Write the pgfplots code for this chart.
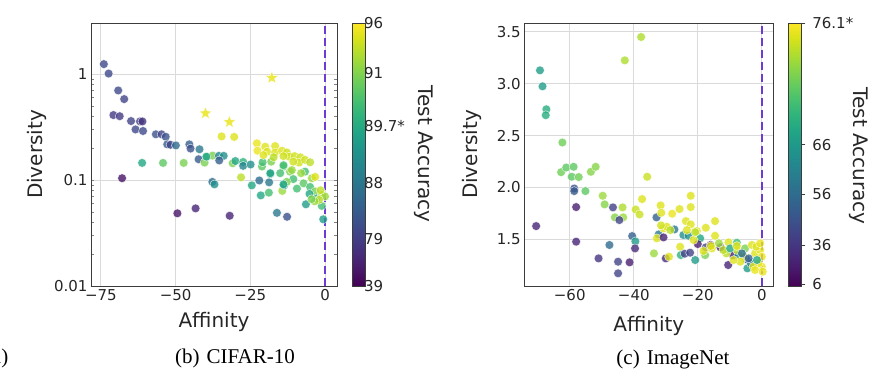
\documentclass[border=0pt]{standalone}
\usepackage{fontspec}
\setmainfont{DejaVu Sans}
\newfontfamily\capfont{Liberation Serif}
\usepackage{pgfplots}
\pgfplotsset{compat=1.18}
\definecolor{vline}{RGB}{108,58,212}
\definecolor{gridc}{RGB}{218,218,218}
\definecolor{framec}{RGB}{60,60,60}

\pgfdeclareplotmark{fstar}{%
  \pgfpathmoveto{\pgfpointpolar{90}{\pgfplotmarksize}}%
  \pgfpathlineto{\pgfpointpolar{126}{0.42\pgfplotmarksize}}%
  \pgfpathlineto{\pgfpointpolar{162}{\pgfplotmarksize}}%
  \pgfpathlineto{\pgfpointpolar{198}{0.42\pgfplotmarksize}}%
  \pgfpathlineto{\pgfpointpolar{234}{\pgfplotmarksize}}%
  \pgfpathlineto{\pgfpointpolar{270}{0.42\pgfplotmarksize}}%
  \pgfpathlineto{\pgfpointpolar{306}{\pgfplotmarksize}}%
  \pgfpathlineto{\pgfpointpolar{342}{0.42\pgfplotmarksize}}%
  \pgfpathlineto{\pgfpointpolar{18}{\pgfplotmarksize}}%
  \pgfpathlineto{\pgfpointpolar{54}{0.42\pgfplotmarksize}}%
  \pgfpathclose
  \pgfusepathqfillstroke}

\pgfplotstableread{
x y c
-74.0 1.24 0.22
-72.4 1.01 0.22
-69.2 0.70 0.22
-67.2 0.58 0.2
-70.8 0.41 0.17
-68.7 0.40 0.17
-64.9 0.36 0.2
-61.9 0.357 0.2
-61.1 0.357 0.15
-63.4 0.30 0.22
-60.9 0.29 0.22
-56.6 0.27 0.25
-54.7 0.27 0.2
-53.3 0.256 0.25
-52.8 0.217 0.3
-51.7 0.215 0.2
-49.9 0.212 0.35
-45.4 0.217 0.3
-45.0 0.198 0.25
-42.0 0.195 0.4
-42.3 0.157 0.28
-37.7 0.096 0.35
-37.0 0.091 0.5
-61.2 0.145 0.6
-54.2 0.145 0.75
-47.3 0.145 0.8
-40.3 0.146 0.8
-39.5 0.166 0.7
-67.9 0.104 0.05
-49.4 0.0485 0.05
-43.3 0.054 0.1
-37.6 0.17 0.8
-31.9 0.046 0.1
-34.6 0.258 0.95
-30.4 0.255 0.95
-39.7 0.166 0.6
-35.5 0.169 0.45
-33.9 0.169 0.5
-35.4 0.153 0.3
-30.9 0.144 0.8
-30.0 0.151 0.6
-27.4 0.148 0.65
-27.4 0.136 0.45
-24.9 0.14 0.5
-28.1 0.106 0.9
-24.5 0.089 0.6
-21.5 0.0716 0.6
-18.8 0.076 0.7
-22.0 0.099 0.35
-18.7 0.095 0.4
-16.1 0.049 0.4
-12.7 0.045 0.25
-14.3 0.079 0.85
-13.7 0.089 0.5
-13.9 0.134 0.75
-18.3 0.114 0.55
-21.1 0.134 0.75
-18.3 0.116 0.6
-15.0 0.116 0.7
-13.9 0.138 0.7
-11.7 0.12 0.8
-10.6 0.102 0.7
-6.7 0.12 0.7
-7.2 0.093 0.75
-5.0 0.086 0.7
-3.3 0.078 0.8
-5.2 0.074 0.6
-2.8 0.067 0.6
-1.1 0.072 0.9
0.0 0.07 0.85
-1.1 0.057 0.7
-6.4 0.059 0.55
-0.6 0.0426 0.55
-9.4 0.083 0.7
-12.8 0.096 0.8
-13.9 0.091 0.6
-18.0 0.149 0.8
-20.9 0.147 0.7
-11.1 0.124 0.85
-8.0 0.116 0.85
-4.4 0.104 0.85
-2.0 0.065 0.9
-3.5 0.063 0.85
-1.5 0.08 0.9
-4.5 0.066 0.8
-22.8 0.222 0.97
-22.6 0.189 0.97
-20.0 0.206 0.95
-19.4 0.185 0.95
-16.7 0.209 0.95
-16.7 0.182 0.95
-14.4 0.189 0.95
-12.8 0.182 0.93
-12.0 0.166 0.93
-10.2 0.168 0.93
-8.3 0.164 0.93
-8.7 0.146 0.93
-6.7 0.155 0.93
-5.0 0.147 0.9
-3.3 0.107 0.95
-10.6 0.149 0.93
-13.9 0.168 0.93
-17.2 0.164 0.9
-20.6 0.172 0.95
}\cifar

\pgfplotstableread{
x y c
-40.0 0.426 0.97
-32.0 0.352 0.97
-17.8 0.92 0.97
}\cifarstar

\pgfplotstableread{
x y c
-69.3 3.128 0.55
-68.5 2.974 0.55
-67.3 2.753 0.62
-67.5 2.696 0.62
-62.3 2.433 0.78
-62.7 2.147 0.78
-61.1 2.192 0.75
-58.8 2.199 0.75
-59.4 2.103 0.75
-57.2 2.100 0.78
-53.4 2.151 0.82
-51.9 2.199 0.82
-58.6 1.990 0.25
-58.6 1.965 0.28
-55.1 1.965 0.75
-58.0 1.811 0.08
-58.0 1.478 0.1
-70.5 1.628 0.1
-49.7 1.920 0.85
-49.1 1.837 0.82
-46.5 1.808 0.18
-43.5 1.808 0.88
-45.9 1.712 0.82
-43.3 1.712 0.85
-44.5 1.686 0.2
-51.0 1.317 0.15
-47.6 1.446 0.35
-44.9 1.285 0.2
-44.9 1.173 0.2
-41.3 1.279 0.08
-40.5 1.532 0.3
-39.5 1.481 0.55
-39.6 1.413 0.12
-42.8 3.224 0.88
-37.7 3.449 0.88
-35.8 2.103 0.92
-37.4 1.888 0.95
-39.4 1.788 0.92
-38.2 1.740 0.92
-33.7 1.365 0.85
-32.9 1.712 0.3
-31.6 1.827 0.95
-31.4 1.756 0.95
-32.2 1.548 0.4
-32.8 1.510 0.95
-30.7 1.519 0.1
-30.0 1.317 0.12
-29.0 1.333 0.95
-30.7 1.606 0.95
-29.7 1.622 0.95
-28.0 1.747 0.97
-27.3 1.596 0.4
-25.7 1.792 0.95
-25.5 1.429 0.95
-24.5 1.542 0.5
-22.9 1.535 0.5
-23.7 1.676 0.95
-22.2 1.811 0.95
-22.2 1.920 0.95
-22.2 1.644 0.95
-25.3 1.349 0.65
-24.1 1.362 0.2
-22.4 1.372 0.2
-20.8 1.301 0.55
-20.3 1.580 0.95
-19.25 1.510 0.6
-20.0 1.455 0.08
-17.5 1.612 0.95
-17.7 1.349 0.8
-17.5 1.423 0.2
-16.0 1.446 0.08
-14.6 1.676 0.95
-14.6 1.535 0.95
-15.6 1.413 0.95
-12.9 1.423 0.08
-13.4 1.462 0.85
-10.4 1.471 0.95
-10.5 1.253 0.1
-9.0 1.346 0.08
-7.8 1.468 0.7
-7.3 1.349 0.5
-7.8 1.397 0.9
-5.2 1.413 0.8
-4.5 1.221 0.55
-4.9 1.308 0.25
-3.4 1.269 0.4
-3.1 1.446 0.95
-2.1 1.365 0.95
-0.5 1.397 0.97
0.0 1.333 0.97
0.0 1.237 0.97
-1.0 1.269 0.97
-2.6 1.237 0.95
-5.7 1.333 0.9
-6.7 1.285 0.95
-8.8 1.301 0.95
-11.1 1.365 0.9
-12.0 1.397 0.9
-9.9 1.413 0.6
-6.2 1.365 0.35
-4.1 1.317 0.3
-1.7 1.429 0.95
-1.5 1.301 0.6
-0.5 1.462 0.97
-2.1 1.205 0.97
0.3 1.189 0.97
-7.8 1.436 0.95
-15.9 1.436 0.95
-18.2 1.388 0.95
-21.3 1.494 0.95
-23.4 1.590 0.95
-28.6 1.590 0.9
-31.5 1.635 0.93
-20.8 1.570 0.9
}\imagenet

\pgfplotsset{
  base/.style={
    scale only axis, height=263pt,
    axis line style={framec, line width=0.9pt},
    grid=major, grid style={gridc, line width=1pt},
    major tick length=0pt, minor tick num=0,
    tick label style={font=\fontsize{15}{18}\selectfont, text=black!85},
    label style={font=\fontsize{20}{24}\selectfont, text=black!85},
    colormap/viridis, point meta min=0, point meta max=1,
  },
  pts/.style={scatter, only marks, mark=*, mark size=4.4pt, scatter src=explicit,
    scatter/use mapped color={draw=white, fill=mapped color, fill opacity=0.8, draw opacity=0.9, line width=0.4pt}},
  cbar/.style={at={(parent axis.north east)}, anchor=north west, xshift=6.5pt,
    scale only axis, width=13.5pt, height=263pt,
    axis line style={framec, line width=0.8pt},
    tick label style={font=\fontsize{15}{18}\selectfont, text=black!85},
    yticklabel pos=right},
}

\begin{document}
\begin{tikzpicture}
\clip (0pt,0pt) rectangle (892pt,388pt);
\path[use as bounding box] (0pt,0pt) rectangle (892pt,388pt);

\begin{axis}[base, at={(91pt,102pt)}, anchor=south west, width=246pt,
  ymode=log, xmin=-78.3, xmax=4, ymin=0.01, ymax=3.03,
  xtick={-75,-50,-25,0}, xticklabels={−75,−50,−25,0},
  ytick={0.01,0.1,1}, yticklabels={0.01,0.1,1},
  yminorgrids=false,
  xlabel={Affinity}, ylabel={Diversity},
  xlabel style={at={(axis description cs:0.5,-0.137)}, anchor=center},
  ylabel style={at={(axis description cs:-0.22,0.5)}, anchor=center},
  colorbar, colorbar style={cbar,
    ytick={0,0.177,0.392,0.607,0.809,1},
    yticklabels={39,79,88,89.7*,91,96},
    major tick length=0pt,
    yticklabel style={xshift=-5pt}}]
\addplot[pts] table[x=x, y=y, meta=c] {\cifar};
\addplot[pts, mark=fstar, mark size=6.8pt, scatter/use mapped color={draw=white, fill=mapped color, fill opacity=0.85, line width=0.4pt}] table[x=x, y=y, meta=c] {\cifarstar};
\addplot[vline, line width=1.8pt, dash pattern=on 8pt off 4pt] coordinates {(0,0.01) (0,3.03)};
\end{axis}

\begin{axis}[base, at={(524.3pt,102pt)}, anchor=south west, width=249pt,
  xmin=-74.2, xmax=3.6, ymin=1.051, ymax=3.584,
  xtick={-60,-40,-20,0}, xticklabels={−60,−40,−20,0},
  ytick={1.5,2,2.5,3,3.5}, yticklabels={1.5,2.0,2.5,3.0,3.5},
  xlabel={Affinity}, ylabel={Diversity},
  xlabel style={at={(axis description cs:0.5,-0.152)}, anchor=center},
  ylabel style={at={(axis description cs:-0.21,0.5)}, anchor=center},
  colorbar, colorbar style={cbar,
    ytick={0.006,0.155,0.349,0.537,1},
    yticklabels={6,36,56,66,76.1*},
    major tick length=3.5pt, tick align=outside, ytick pos=right,
    major tick style={framec, line width=0.8pt},
    yticklabel style={xshift=3.5pt}}]
\addplot[pts] table[x=x, y=y, meta=c] {\imagenet};
\addplot[vline, line width=1.8pt, dash pattern=on 8pt off 4pt] coordinates {(0,1.051) (0,3.584)};
\end{axis}

\node[rotate=-90, font=\fontsize{20}{24}\selectfont, text=black!85] at (424pt,234pt) {Test Accuracy};
\node[rotate=-90, font=\fontsize{20}{24}\selectfont, text=black!85] at (859pt,232pt) {Test Accuracy};

\node[font=\capfont\fontsize{21}{25}\selectfont, inner sep=0pt] at (235pt,30pt) {(b)\hspace{7pt}CIFAR-10};
\node[font=\capfont\fontsize{21}{25}\selectfont, inner sep=0pt] at (673pt,29pt) {(c)\hspace{7pt}ImageNet};
\node[font=\capfont\fontsize{21}{25}\selectfont, inner sep=0pt, anchor=east] at (8.5pt,30pt) {(a)};
\end{tikzpicture}
\end{document}
